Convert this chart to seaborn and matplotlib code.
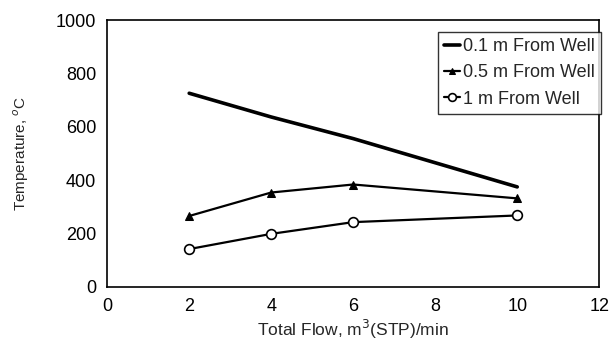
import matplotlib
matplotlib.use("Agg")
import matplotlib.pyplot as plt
import seaborn as sns
import pandas as pd

# Dữ liệu
flow = [2, 4, 6, 10]
temp_01m = [726, 637, 556, 375]
temp_05m = [266, 354, 384, 332]
temp_1m = [142, 199, 243, 268]
series_names = ["0.1 m From Well", "0.5 m From Well", "1 m From Well"]

df = pd.DataFrame({
    "flow": flow * 3,
    "temp": temp_01m + temp_05m + temp_1m,
    "series": [s for s in series_names for _ in flow],
})

sns.set_style("white")
plt.rcParams["font.family"] = ["Liberation Sans", "DejaVu Sans"]

fig = plt.figure(figsize=(6.09, 3.47), dpi=100)
ax = fig.add_axes([0.176, 0.173, 0.808, 0.769])

styles = {
    "0.1 m From Well": dict(marker="", lw=2.6),
    "0.5 m From Well": dict(marker="^", lw=1.6, ms=6, mfc="black", mec="black"),
    "1 m From Well": dict(marker="o", lw=1.6, ms=7, mfc="white", mec="black", mew=1.2),
}
for name in series_names:
    sub = df[df["series"] == name]
    sns.lineplot(data=sub, x="flow", y="temp", ax=ax, color="black",
                 label=name, **styles[name])

ax.set_xlim(0, 12)
ax.set_ylim(0, 1000)
ax.set_xticks(range(0, 13, 2))
ax.set_yticks(range(0, 1001, 200))
ax.tick_params(axis="both", length=0, labelsize=13, pad=8, colors="black")
for sp in ax.spines.values():
    sp.set_color("black")
    sp.set_linewidth(1.2)

ax.set_xlabel("Total Flow, m$^3$(STP)/min", fontsize=12.5)
ax.set_ylabel("Temperature, $^o$C", fontsize=11)
ax.yaxis.set_label_coords(-0.155, 0.5)
ax.xaxis.set_label_coords(0.5, -0.115)

leg = ax.legend(loc="upper right", bbox_to_anchor=(1.004, 0.955), fontsize=13,
                frameon=True, fancybox=False, handlelength=0.9,
                handletextpad=0.15, borderpad=0.35, labelspacing=0.5,
                borderaxespad=0, markerscale=0.8)
leg.get_frame().set_edgecolor("black")
leg.get_frame().set_linewidth(1.0)

fig.savefig("out.png", dpi=100)
